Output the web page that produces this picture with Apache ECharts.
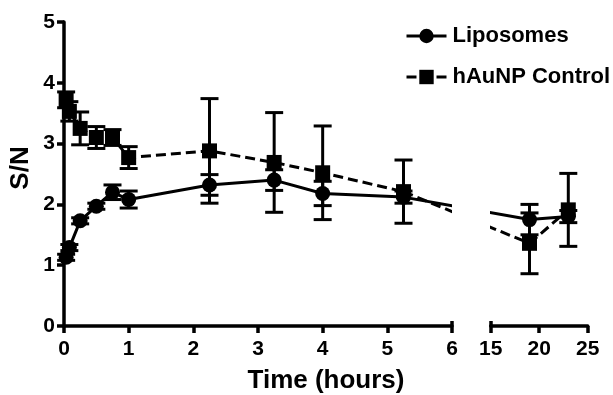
<!DOCTYPE html>
<html>
<head>
<meta charset="utf-8">
<script src="https://cdn.jsdelivr.net/npm/echarts@6/dist/echarts.min.js"></script>
<style>
  html, body { margin: 0; padding: 0; background: #fff; }
  #chart { width: 613px; height: 395px; }
</style>
</head>
<body>
<div id="chart"></div>
<script>
// Sampling times (hours) and mean S/N with standard deviations
const hours        = [0.033, 0.083, 0.25, 0.5, 0.75, 1, 2.25, 3.25, 4, 5.25, 19, 23];
const liposomes    = [1.13, 1.29, 1.73, 1.97, 2.20, 2.08, 2.32, 2.40, 2.18, 2.12, 1.75, 1.80];
const liposomesSD  = [0.05, 0.05, 0.05, 0.05, 0.12, 0.14, 0.17, 0.17, 0.20, 0.10, 0.25, 0.10];
const hAuNP        = [3.72, 3.53, 3.25, 3.10, 3.10, 2.77, 2.88, 2.69, 2.52, 2.21, 1.36, 1.91];
const hAuNPSD      = [0.13, 0.16, 0.27, 0.18, 0.13, 0.18, 0.86, 0.82, 0.77, 0.52, 0.50, 0.60];

// Broken time axis: an early segment and a late segment
const earlyRange = [0, 6];
const earlyStep  = 1;
const lateRange  = [15, 25];
const lateStep   = 5;
const yRange     = [0, 5];
const yStep      = 1;

const FONT = 'Liberation Sans, Arial, Helvetica, sans-serif';
const LW = 3;
const DASH = [10, 5];

const chart = echarts.init(document.getElementById('chart'), null, { renderer: 'canvas' });

function points(values) {
  return hours.map((t, i) => [t, values[i]]);
}
function errorRows(values, sd) {
  return hours.map((t, i) => [t, values[i] - sd[i], values[i] + sd[i]]);
}
const inEarly = p => p[0] <= earlyRange[1];
const inLate  = p => p[0] >= lateRange[0];

function errorBarRenderer(params, api) {
  const t = api.value(0);
  const top = api.coord([t, api.value(2)]);
  const bot = api.coord([t, api.value(1)]);
  const half = 9;
  const style = { stroke: '#000', lineWidth: 3 };
  return {
    type: 'group',
    children: [
      { type: 'line', shape: { x1: top[0], y1: top[1], x2: bot[0], y2: bot[1] }, style },
      { type: 'line', shape: { x1: top[0] - half, y1: top[1], x2: top[0] + half, y2: top[1] }, style },
      { type: 'line', shape: { x1: bot[0] - half, y1: bot[1], x2: bot[0] + half, y2: bot[1] }, style }
    ]
  };
}

// Segment joining the last early point to the first late point, drawn in each
// panel and clipped to it, so the line is interrupted across the axis break.
function bridgeRenderer(dash) {
  return function (params, api) {
    const a = chart.convertToPixel({ gridIndex: 0 }, [api.value(0), api.value(1)]);
    const b = chart.convertToPixel({ gridIndex: 1 }, [api.value(2), api.value(3)]);
    if (!a || !b) return null;
    return {
      type: 'line',
      shape: { x1: a[0], y1: a[1], x2: b[0], y2: b[1] },
      style: { stroke: '#000', lineWidth: LW, lineDash: dash || null }
    };
  };
}

function bridgeRow(values) {
  const pts = points(values);
  const a = pts.filter(inEarly).pop();
  const b = pts.filter(inLate)[0];
  return [[a[0], a[1], b[0], b[1]]];
}

const groups = [
  { name: 'Liposomes', values: liposomes, sd: liposomesSD, symbol: 'circle', size: 15, dash: null },
  { name: 'hAuNP Control', values: hAuNP, sd: hAuNPSD, symbol: 'rect', size: 15, dash: DASH }
];

const series = [];
groups.forEach(g => {
  [0, 1].forEach(gi => {
    const keep = gi === 0 ? inEarly : inLate;
    series.push({
      type: 'custom',
      xAxisIndex: gi, yAxisIndex: gi,
      renderItem: errorBarRenderer,
      data: errorRows(g.values, g.sd).filter(keep),
      z: 2,
      silent: true
    });
    series.push({
      type: 'custom',
      xAxisIndex: gi, yAxisIndex: gi,
      renderItem: bridgeRenderer(g.dash),
      data: bridgeRow(g.values),
      encode: gi === 0 ? { x: 0, y: 1 } : { x: 2, y: 3 },
      clip: true,
      z: 3,
      silent: true
    });
    series.push({
      name: g.name,
      type: 'line',
      xAxisIndex: gi, yAxisIndex: gi,
      data: points(g.values).filter(keep),
      symbol: g.symbol,
      symbolSize: g.size,
      showAllSymbol: true,
      itemStyle: { color: '#000' },
      lineStyle: { color: '#000', width: LW, type: g.dash ? g.dash : 'solid' },
      z: 4,
      silent: true
    });
  });
});

const axisLabelStyle = { fontFamily: FONT, fontWeight: 'bold', fontSize: 21, color: '#000' };
const axisLineStyle = { color: '#000', width: 3.5 };

const option = {
  animation: false,
  backgroundColor: '#fff',
  grid: [
    { left: 64, top: 22, width: 388, height: 304 },
    { left: 490.7, top: 22, width: 97, height: 304 }
  ],
  xAxis: [
    {
      type: 'value', gridIndex: 0, min: earlyRange[0], max: earlyRange[1], interval: earlyStep,
      position: 'bottom',
      axisLine: { show: true, onZero: false, lineStyle: axisLineStyle },
      axisTick: { show: true, length: 7, lineStyle: axisLineStyle },
      axisLabel: Object.assign({ margin: 13 }, axisLabelStyle),
      splitLine: { show: false }
    },
    {
      type: 'value', gridIndex: 1, min: lateRange[0], max: lateRange[1], interval: lateStep,
      position: 'bottom',
      axisLine: { show: true, onZero: false, lineStyle: axisLineStyle },
      axisTick: { show: true, length: 7, lineStyle: axisLineStyle },
      axisLabel: Object.assign({ margin: 13 }, axisLabelStyle),
      splitLine: { show: false }
    },
    {
      // inner tick marking the end of the early segment
      type: 'value', gridIndex: 0, min: earlyRange[0], max: earlyRange[1],
      position: 'bottom',
      axisLine: { show: false },
      axisTick: { show: true, inside: true, length: 5, customValues: [earlyRange[1]], lineStyle: axisLineStyle },
      axisLabel: { show: false },
      splitLine: { show: false }
    },
    {
      // inner tick marking the start of the late segment
      type: 'value', gridIndex: 1, min: lateRange[0], max: lateRange[1],
      position: 'bottom',
      axisLine: { show: false },
      axisTick: { show: true, inside: true, length: 5, customValues: [lateRange[0]], lineStyle: axisLineStyle },
      axisLabel: { show: false },
      splitLine: { show: false }
    }
  ],
  yAxis: [
    {
      type: 'value', gridIndex: 0, min: yRange[0], max: yRange[1], interval: yStep,
      axisLine: { show: true, onZero: false, lineStyle: axisLineStyle },
      axisTick: { show: true, length: 7, lineStyle: axisLineStyle },
      axisLabel: Object.assign({ margin: 9 }, axisLabelStyle),
      splitLine: { show: false }
    },
    {
      type: 'value', gridIndex: 1, min: yRange[0], max: yRange[1], interval: yStep,
      show: false,
      splitLine: { show: false }
    }
  ],
  legend: {
    orient: 'vertical',
    left: 400,
    top: 20,
    itemWidth: 40,
    itemHeight: 18,
    itemGap: 19,
    selectedMode: false,
    data: groups.map(g => g.name),
    lineStyle: { width: LW },
    textStyle: { fontFamily: FONT, fontWeight: 'bold', fontSize: 22, color: '#000', padding: [0, 0, 0, 1] }
  },
  graphic: [
    {
      type: 'text', x: 326, y: 381,
      style: { text: 'Time (hours)', font: 'bold 26px ' + FONT, fill: '#000', textAlign: 'center', textVerticalAlign: 'middle' }
    },
    {
      type: 'text', x: 21, y: 168, rotation: Math.PI / 2,
      style: { text: 'S/N', font: 'bold 26px ' + FONT, fill: '#000', textAlign: 'center', textVerticalAlign: 'middle' }
    }
  ],
  series
};

chart.setOption(option);
</script>
</body>
</html>
